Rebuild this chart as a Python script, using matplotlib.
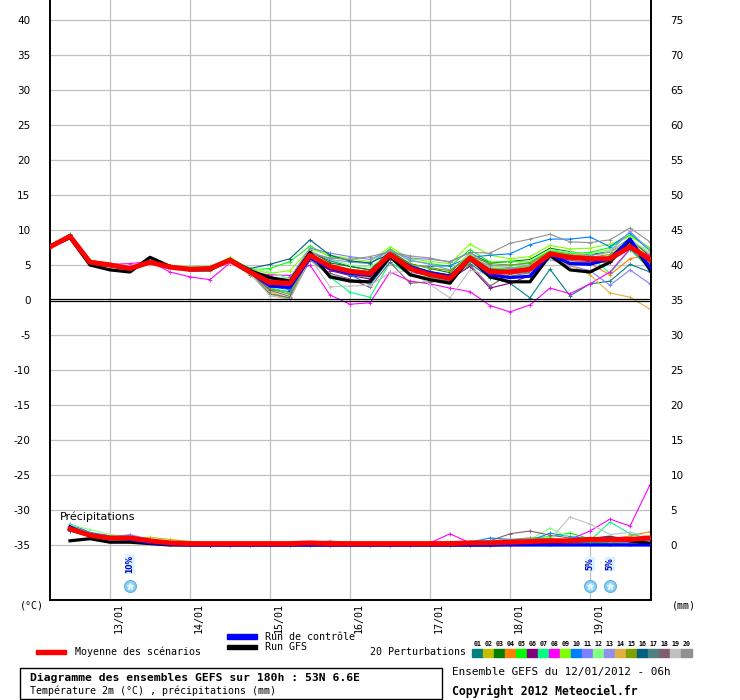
import numpy as np
import matplotlib
matplotlib.use('Agg')
import matplotlib.pyplot as plt
from matplotlib.patches import Rectangle

# ---------------- data ----------------
steps = list(range(31))          # 6-hour steps from 12/01/2012 06h
prcp_steps = list(range(1, 31))
day_steps = [3, 7, 11, 15, 19, 23, 27]
day_labels = ['13/01', '14/01', '15/01', '16/01', '17/01', '18/01', '19/01']
temp_ticks = list(range(-35, 41, 5))
snow_steps = [4, 27, 28]
snow_labels = ['10%', '5%', '5%']

temp_mean = [7.6, 9.1, 5.4, 5.0, 4.5, 5.4, 4.7, 4.4, 4.5, 5.7, 4.0, 2.5, 2.4, 6.4, 4.8, 4.1,
             3.8, 6.5, 4.5, 3.6, 3.1, 6.0, 4.0, 4.0, 4.4, 6.6, 6.1, 5.9, 5.9, 7.6, 5.8]
temp_gfs = [7.6, 8.9, 5.0, 4.3, 4.0, 6.1, 4.8, 4.3, 4.3, 5.8, 4.2, 3.2, 2.7, 6.8, 3.3, 2.7,
            2.6, 6.2, 3.6, 2.9, 2.4, 6.0, 3.3, 2.6, 2.6, 6.4, 4.3, 4.0, 5.4, 8.6, 4.3]
temp_ctrl = [7.6, 9.1, 5.3, 4.9, 4.4, 5.4, 4.7, 4.4, 4.5, 5.7, 4.0, 2.0, 1.8, 6.0, 4.5, 3.8,
             3.5, 6.5, 4.8, 3.9, 3.4, 6.0, 3.6, 3.2, 3.4, 6.5, 5.2, 5.1, 5.9, 8.7, 4.6]

temp_p01 = [7.7, 9.2, 5.2, 4.9, 4.4, 5.3, 4.6, 4.3, 4.4, 5.9, 3.6, 1.5, 1.2, 6.8, 5.6, 4.8, 4.3, 6.9, 4.8, 4.1, 3.5, 5.2, 3.2, 2.4, 0.3, 4.4, 0.6, 2.3, 2.7, 5.1, 4.0]
temp_p02 = [7.5, 9.0, 5.6, 5.1, 4.4, 5.2, 4.9, 4.6, 4.4, 5.5, 3.8, 0.8, 0.2, 6.0, 4.4, 3.6, 3.2, 6.3, 4.4, 3.4, 3.0, 6.4, 4.6, 4.5, 5.0, 7.0, 6.6, 6.4, 6.8, 8.3, 6.5]
temp_p03 = [7.6, 9.4, 5.3, 4.9, 4.5, 5.5, 4.6, 4.3, 4.6, 5.9, 4.1, 2.8, 2.2, 7.1, 5.3, 4.8, 4.3, 7.0, 5.2, 4.5, 3.9, 6.7, 5.3, 5.5, 5.8, 7.4, 6.9, 6.5, 6.9, 8.8, 6.2]
temp_p04 = [7.7, 9.1, 5.6, 5.3, 4.7, 5.3, 4.5, 4.2, 4.3, 5.4, 3.7, 2.2, 2.0, 5.9, 4.6, 4.3, 3.7, 6.2, 4.3, 3.4, 3.0, 5.8, 4.5, 4.4, 4.9, 6.4, 5.6, 5.2, 3.6, 5.9, 6.5]
temp_p05 = [7.6, 9.3, 5.5, 5.0, 4.4, 5.4, 4.9, 4.7, 4.7, 5.6, 4.3, 4.5, 5.5, 7.7, 6.2, 5.6, 5.2, 7.3, 5.6, 5.2, 4.8, 7.2, 5.4, 5.5, 5.4, 7.1, 6.6, 6.8, 7.5, 9.3, 7.4]
temp_p06 = [7.6, 9.0, 5.3, 4.8, 4.6, 5.6, 4.6, 4.4, 4.5, 5.7, 3.9, 3.4, 1.3, 6.1, 4.2, 3.5, 3.0, 6.3, 4.0, 3.5, 3.0, 4.8, 1.7, 2.4, 3.5, 6.2, 5.7, 5.5, 5.4, 7.8, 5.4]
temp_p07 = [7.7, 9.4, 5.4, 5.0, 4.6, 5.6, 4.8, 4.5, 4.6, 6.0, 4.2, 1.8, 1.0, 6.5, 3.3, 1.1, 0.4, 5.4, 3.6, 3.2, 2.7, 5.4, 4.3, 4.6, 4.9, 6.3, 6.0, 6.3, 3.8, 7.2, 4.4]
temp_p08 = [7.6, 9.0, 5.3, 5.1, 5.2, 5.5, 4.0, 3.3, 2.9, 5.3, 3.9, 3.6, 3.5, 5.0, 0.7, -0.6, -0.4, 4.0, 2.7, 2.3, 1.7, 1.2, -0.8, -1.7, -0.7, 1.7, 0.9, 2.3, 4.0, 7.3, 6.4]
temp_p09 = [7.6, 9.2, 5.5, 5.1, 4.6, 5.7, 5.0, 4.6, 4.7, 6.1, 4.4, 3.8, 4.2, 7.3, 6.4, 5.9, 5.5, 7.6, 5.9, 5.5, 5.2, 8.0, 6.4, 5.9, 6.2, 7.8, 7.3, 7.4, 8.0, 9.0, 7.5]
temp_p10 = [7.6, 9.1, 5.3, 4.9, 4.4, 5.3, 4.5, 4.3, 4.4, 5.6, 3.9, 1.9, 1.5, 6.3, 4.7, 3.6, 2.2, 5.8, 4.9, 4.8, 4.9, 6.1, 6.4, 6.6, 7.9, 8.7, 8.7, 9.0, 7.6, 9.6, 7.0]
temp_p11 = [7.5, 9.0, 5.4, 5.0, 4.5, 5.4, 4.7, 4.4, 4.5, 5.6, 4.1, 3.0, 3.2, 7.4, 6.7, 6.2, 5.8, 7.0, 6.0, 5.8, 5.5, 6.8, 5.0, 4.6, 4.2, 5.8, 4.9, 4.2, 2.1, 4.3, 2.3]
temp_p12 = [7.6, 9.2, 5.6, 5.2, 4.7, 5.4, 4.9, 4.8, 4.9, 5.9, 4.6, 4.0, 3.0, 7.0, 5.8, 5.0, 4.7, 6.6, 5.0, 4.6, 4.2, 6.6, 4.7, 4.8, 5.6, 7.2, 6.8, 6.6, 7.2, 8.5, 7.0]
temp_p13 = [7.6, 9.1, 5.4, 5.0, 4.6, 5.5, 4.8, 4.5, 4.5, 5.7, 3.9, 2.4, 2.0, 6.9, 5.8, 5.4, 5.2, 7.1, 5.7, 5.1, 4.3, 6.0, 4.9, 5.0, 5.2, 6.8, 6.4, 6.3, 6.9, 9.8, 7.1]
temp_p14 = [7.7, 9.0, 5.7, 5.2, 4.8, 5.2, 4.6, 4.2, 4.2, 5.5, 3.7, 1.2, 0.2, 6.1, 4.6, 4.0, 3.6, 6.3, 4.6, 3.9, 3.3, 5.6, 4.2, 4.1, 4.7, 6.1, 5.0, 3.6, 1.0, 0.4, -1.3]
temp_p15 = [7.6, 9.2, 5.4, 4.9, 4.5, 5.6, 4.8, 4.4, 4.6, 5.8, 3.8, 1.6, 0.8, 6.2, 4.9, 4.4, 4.0, 6.8, 5.1, 4.6, 4.2, 6.3, 5.2, 5.0, 5.3, 6.9, 6.3, 6.1, 6.5, 8.1, 6.0]
temp_p16 = [7.6, 9.3, 5.3, 5.0, 4.5, 5.5, 4.7, 4.4, 4.5, 5.8, 4.5, 5.1, 5.9, 8.6, 6.4, 5.6, 5.3, 6.6, 4.8, 4.0, 3.6, 6.2, 4.4, 4.2, 4.6, 6.5, 6.0, 5.6, 6.2, 8.6, 4.8]
temp_p17 = [7.6, 9.1, 5.4, 5.0, 4.5, 5.4, 4.6, 4.3, 4.4, 5.6, 3.8, 0.9, 0.3, 5.7, 3.5, 2.9, 2.6, 5.9, 3.8, 3.0, 2.7, 5.6, 3.4, 3.4, 3.9, 6.0, 5.4, 5.1, 5.6, 7.4, 4.5]
temp_p18 = [7.6, 9.0, 5.5, 5.1, 4.5, 5.3, 4.7, 4.4, 4.5, 5.6, 4.0, 1.4, 0.5, 5.8, 3.8, 3.0, 1.8, 5.4, 2.4, 2.6, 2.8, 5.0, 2.0, 3.7, 4.0, 6.1, 5.6, 5.3, 6.0, 8.0, 5.3]
temp_p19 = [7.7, 9.2, 5.3, 4.8, 4.3, 5.2, 4.4, 4.1, 4.2, 5.4, 3.8, 0.6, 0.1, 6.0, 1.9, 2.0, 2.1, 3.9, 4.2, 2.2, 0.3, 4.3, 3.5, 3.8, 4.1, 5.9, 5.5, 5.8, 7.0, 8.6, 6.7]
temp_p20 = [7.6, 9.1, 5.5, 5.1, 4.6, 5.5, 4.7, 4.6, 4.5, 5.7, 4.1, 2.9, 2.6, 6.7, 6.0, 5.8, 6.2, 6.9, 6.3, 6.0, 5.4, 6.8, 6.7, 8.1, 8.7, 9.4, 8.3, 8.2, 8.6, 10.3, 8.3]

prcp_mean = [2.3, 1.4, 1.0, 1.0, 0.6, 0.3, 0.2, 0.2, 0.2, 0.2, 0.2, 0.2, 0.3, 0.2, 0.2,
             0.2, 0.2, 0.2, 0.2, 0.2, 0.3, 0.3, 0.4, 0.5, 0.6, 0.6, 0.8, 0.8, 0.8, 1.0]
prcp_gfs = [0.6, 0.9, 0.4, 0.4, 0.2, 0.0, 0.0, 0.0, 0.0, 0.0, 0.0, 0.0, 0.0, 0.0, 0.0,
            0.0, 0.0, 0.0, 0.0, 0.0, 0.0, 0.0, 0.1, 0.2, 0.3, 0.5, 0.8, 1.0, 0.6, 0.2]
prcp_ctrl = [2.6, 1.3, 0.9, 0.8, 0.3, 0.1, 0.0, 0.0, 0.0, 0.0, 0.0, 0.0, 0.0, 0.0, 0.0,
             0.0, 0.0, 0.0, 0.0, 0.0, 0.0, 0.0, 0.0, 0.0, 0.0, 0.0, 0.0, 0.0, 0.0, 0.0]

prcp_p01 = [2.2, 1.5, 1.1, 1.0, 0.6, 0.3, 0.2, 0.1, 0.1, 0.1, 0.2, 0.2, 0.1, 0.1, 0.1, 0.1, 0.1, 0.1, 0.1, 0.1, 0.1, 0.2, 0.2, 0.3, 0.2, 0.3, 0.2, 0.2, 0.1, 0.1]
prcp_p02 = [2.7, 1.7, 1.3, 1.0, 1.1, 0.8, 0.5, 0.2, 0.1, 0.1, 0.0, 0.0, 0.1, 0.1, 0.0, 0.0, 0.2, 0.2, 0.1, 0.1, 0.0, 0.1, 0.3, 0.5, 0.4, 0.4, 0.3, 0.6, 0.7, 0.5]
prcp_p03 = [2.6, 1.6, 1.1, 0.9, 0.5, 0.3, 0.1, 0.0, 0.0, 0.0, 0.2, 0.3, 0.0, 0.0, 0.0, 0.0, 0.0, 0.0, 0.0, 0.0, 0.0, 0.0, 0.0, 0.1, 0.4, 0.7, 0.3, 0.2, 0.1, 0.2]
prcp_p04 = [2.3, 1.6, 1.0, 1.2, 0.8, 0.4, 0.2, 0.1, 0.0, 0.0, 0.0, 0.1, 0.1, 0.0, 0.0, 0.0, 0.0, 0.1, 0.2, 0.2, 0.1, 0.3, 0.6, 0.9, 0.9, 0.7, 1.0, 0.8, 1.3, 1.9]
prcp_p05 = [2.5, 1.3, 0.9, 0.8, 0.4, 0.2, 0.1, 0.1, 0.0, 0.0, 0.0, 0.1, 0.1, 0.0, 0.0, 0.1, 0.1, 0.1, 0.2, 0.4, 0.5, 0.6, 0.7, 1.0, 1.2, 1.7, 0.9, 0.6, 0.4, 0.5]
prcp_p06 = [2.0, 1.2, 0.9, 1.4, 0.6, 0.3, 0.1, 0.0, 0.0, 0.0, 0.0, 0.0, 0.0, 0.0, 0.0, 0.0, 0.0, 0.0, 0.1, 0.2, 0.3, 0.4, 0.3, 0.3, 0.2, 0.5, 0.6, 0.4, 0.3, 0.2]
prcp_p07 = [2.4, 1.5, 1.0, 0.9, 0.6, 0.3, 0.1, 0.1, 0.0, 0.0, 0.0, 0.0, 0.0, 0.0, 0.0, 0.0, 0.1, 0.0, 0.0, 0.0, 0.1, 0.2, 0.3, 0.5, 0.4, 0.5, 0.6, 3.3, 1.6, 0.9]
prcp_p08 = [2.2, 1.4, 1.0, 1.0, 0.5, 0.3, 0.1, 0.1, 0.1, 0.1, 0.1, 0.1, 0.1, 0.1, 0.1, 0.1, 0.1, 0.2, 0.3, 1.6, 0.3, 0.2, 0.2, 0.3, 0.6, 0.8, 2.0, 3.7, 2.7, 8.6]
prcp_p09 = [2.8, 1.7, 1.2, 1.1, 0.6, 0.4, 0.2, 0.1, 0.1, 0.1, 0.1, 0.2, 0.1, 0.2, 0.3, 0.4, 0.3, 0.1, 0.1, 0.1, 0.1, 0.1, 0.2, 0.3, 0.5, 0.6, 0.5, 0.4, 0.3, 0.3]
prcp_p10 = [3.0, 1.8, 1.3, 1.0, 0.5, 0.2, 0.1, 0.0, 0.0, 0.0, 0.0, 0.0, 0.0, 0.0, 0.0, 0.0, 0.0, 0.0, 0.1, 0.3, 0.4, 1.0, 0.8, 0.6, 1.7, 1.2, 0.9, 1.3, 0.6, 0.5]
prcp_p11 = [2.4, 1.4, 1.2, 1.3, 0.7, 0.4, 0.2, 0.1, 0.0, 0.0, 0.1, 0.1, 0.0, 0.1, 0.2, 0.1, 0.1, 0.1, 0.0, 0.1, 0.2, 0.3, 0.3, 0.3, 0.4, 0.5, 0.4, 0.5, 0.3, 0.2]
prcp_p12 = [2.9, 2.2, 1.5, 1.2, 0.8, 0.4, 0.2, 0.2, 0.1, 0.2, 0.3, 0.2, 0.0, 0.0, 0.0, 0.0, 0.0, 0.0, 0.0, 0.0, 0.1, 0.2, 0.4, 0.8, 2.4, 1.0, 0.5, 0.6, 0.8, 0.6]
prcp_p13 = [2.3, 1.5, 1.1, 1.5, 0.8, 0.4, 0.2, 0.1, 0.1, 0.1, 0.2, 0.2, 0.1, 0.1, 0.1, 0.1, 0.1, 0.1, 0.1, 0.2, 0.2, 0.3, 0.4, 0.5, 0.4, 0.4, 0.5, 0.6, 0.5, 0.4]
prcp_p14 = [2.1, 1.4, 1.0, 0.9, 0.6, 0.3, 0.2, 0.1, 0.0, 0.0, 0.0, 0.0, 0.0, 0.0, 0.1, 0.1, 0.1, 0.1, 0.1, 0.2, 0.3, 0.3, 0.4, 0.4, 0.5, 0.6, 0.7, 0.6, 0.9, 0.7]
prcp_p15 = [2.5, 1.5, 1.0, 0.9, 0.5, 0.3, 0.1, 0.1, 0.0, 0.0, 0.2, 0.1, 0.0, 0.0, 0.0, 0.3, 0.3, 0.1, 0.0, 0.0, 0.0, 0.1, 0.2, 0.3, 0.3, 0.4, 0.4, 0.3, 0.2, 0.1]
prcp_p16 = [2.2, 1.3, 1.0, 0.8, 0.4, 0.2, 0.1, 0.0, 0.0, 0.0, 0.1, 0.3, 0.3, 0.1, 0.0, 0.0, 0.0, 0.2, 0.2, 0.1, 0.1, 0.1, 0.2, 0.3, 0.4, 0.3, 0.3, 0.2, 0.2, 0.1]
prcp_p17 = [2.0, 1.2, 0.9, 0.9, 0.5, 0.3, 0.2, 0.2, 0.1, 0.1, 0.1, 0.2, 0.2, 0.1, 0.1, 0.1, 0.1, 0.1, 0.1, 0.1, 0.1, 0.2, 0.3, 0.4, 0.4, 0.4, 0.3, 0.3, 0.2, 0.2]
prcp_p18 = [2.3, 1.4, 0.9, 0.8, 0.4, 0.3, 0.2, 0.3, 0.1, 0.1, 0.1, 0.1, 0.1, 0.1, 0.1, 0.1, 0.2, 0.2, 0.1, 0.1, 0.3, 0.6, 1.6, 2.0, 1.4, 1.0, 0.8, 0.6, 0.5, 0.4]
prcp_p19 = [2.4, 1.5, 1.1, 1.0, 0.6, 0.3, 0.1, 0.1, 0.0, 0.0, 0.0, 0.0, 0.0, 0.0, 0.0, 0.0, 0.0, 0.0, 0.0, 0.0, 0.1, 0.3, 0.5, 0.7, 0.8, 4.0, 3.0, 1.5, 1.8, 1.2]
prcp_p20 = [2.6, 1.6, 1.2, 1.1, 0.7, 0.5, 0.3, 0.2, 0.2, 0.2, 0.2, 0.2, 0.3, 0.6, 0.3, 0.2, 0.2, 0.2, 0.2, 0.3, 0.4, 0.6, 0.8, 1.0, 0.9, 0.7, 0.6, 0.5, 0.8, 0.6]

pert_colors = ['#008080', '#c0c000', '#008000', '#ff8000', '#00ff00', '#800080', '#00ff80',
               '#ff00ff', '#80ff00', '#0080ff', '#8080ff', '#80ff80', '#9090f0', '#e0b040',
               '#80a000', '#006080', '#508080', '#806070', '#c0c0c0', '#909090']

temp_perts = [temp_p01, temp_p02, temp_p03, temp_p04, temp_p05, temp_p06, temp_p07, temp_p08,
              temp_p09, temp_p10, temp_p11, temp_p12, temp_p13, temp_p14, temp_p15, temp_p16,
              temp_p17, temp_p18, temp_p19, temp_p20]
prcp_perts = [prcp_p01, prcp_p02, prcp_p03, prcp_p04, prcp_p05, prcp_p06, prcp_p07, prcp_p08,
              prcp_p09, prcp_p10, prcp_p11, prcp_p12, prcp_p13, prcp_p14, prcp_p15, prcp_p16,
              prcp_p17, prcp_p18, prcp_p19, prcp_p20]

PRCP_BASE = -35.0   # precipitation 0 mm drawn at -35 on the temperature scale

# ---------------- figure ----------------
W, H = 740, 700
fig = plt.figure(figsize=(W / 100, H / 100), dpi=100)
fig.patch.set_facecolor('white')
ax = fig.add_axes([50 / W, 100 / H, 601 / W, 600 / H])
ax.set_xlim(0, 30.05)
ax.set_ylim(-300 / 7, 300 / 7)
ax.set_facecolor('white')

grid_c = '#c0c0c0'
for v in temp_ticks:
    if v != 0:
        ax.axhline(v, color=grid_c, lw=0.9, zorder=0)
for s in day_steps:
    ax.axvline(s, color=grid_c, lw=0.9, zorder=0)
ax.axhline(0.15, color='black', lw=0.9, zorder=6)
ax.axhline(-0.15, color='black', lw=0.9, zorder=6)

ax.spines['top'].set_visible(False)
for sp in ['left', 'right', 'bottom']:
    ax.spines[sp].set_color('black')
    ax.spines[sp].set_linewidth(1.4)

ax.set_xticks([])
ax.set_yticks(temp_ticks)
ax.set_yticklabels([str(v) for v in temp_ticks])
ax.tick_params(axis='y', length=0, pad=14, labelsize=7.5)
ax2 = ax.twinx()
ax2.set_ylim(ax.get_ylim())
ax2.set_yticks(temp_ticks)
ax2.set_yticklabels([str(v + 35) for v in temp_ticks])
ax2.tick_params(axis='y', length=0, pad=14, labelsize=7.5)
for sp in ax2.spines.values():
    sp.set_visible(False)

# temperature lines
for t, c in zip(temp_perts, pert_colors):
    ax.plot(steps, t, color=c, lw=0.8, marker='+', ms=3, mew=0.6, zorder=2)
ax.plot(steps, temp_gfs, color='black', lw=2.3, zorder=3)
ax.plot(steps, temp_ctrl, color='#0000ff', lw=2.3, zorder=4)
ax.plot(steps, temp_mean, color='#ff0000', lw=3.6, zorder=5)

# precipitation lines
def pr(vals):
    return [PRCP_BASE + v for v in vals]

for p, c in zip(prcp_perts, pert_colors):
    ax.plot(prcp_steps, pr(p), color=c, lw=0.8, marker='+', ms=3, mew=0.6, zorder=2)
ax.plot(prcp_steps, pr(prcp_gfs), color='black', lw=2.3, zorder=3)
ax.plot(prcp_steps, pr(prcp_ctrl), color='#0000ff', lw=2.3, zorder=4)
ax.plot(prcp_steps, pr(prcp_mean), color='#ff0000', lw=3.6, zorder=5)

ax.text(0.5, -30.9, 'Précipitations', fontsize=8, va='center', ha='left', zorder=7)

# snow probability icons
for s, lab in zip(snow_steps, snow_labels):
    ax.plot([s], [-40.8], marker='o', ms=8.5, color='#8cd0f4', mec='#5aaee0', mew=0.8, zorder=7)
    ax.plot([s], [-40.8], marker='*', ms=4.5, color='#dff4ff', mec='#dff4ff', zorder=8)
    ax.text(s, -37.7, lab, rotation=90, fontsize=5.5, color='#0000cc', ha='center', va='center',
            fontweight='bold', zorder=8,
            bbox=dict(boxstyle='square,pad=0.1', fc='#d8f4ff', ec='none'))

# date labels
xt = ax.get_xaxis_transform()
for s, lab in zip(day_steps, day_labels):
    ax.text(s + 0.45, -0.005, lab, transform=xt, rotation=90, ha='center', va='top',
            fontsize=7.2, family='DejaVu Sans Mono', clip_on=False)

# ---------------- overlay (legend / titles) ----------------
ov = fig.add_axes([0, 0, 1, 1], facecolor='none')
ov.set_xlim(0, W)
ov.set_ylim(H, 0)
ov.axis('off')
mono = 'DejaVu Sans Mono'

ov.text(20, 606, '(°C)', fontsize=7.2, family=mono, va='center', ha='left')
ov.text(672, 606, '(mm)', fontsize=7.2, family=mono, va='center', ha='left')

ov.add_patch(Rectangle((36, 649.5), 30, 4.5, color='#ff0000'))
ov.text(75, 652, 'Moyenne des scénarios', fontsize=7.2, family=mono, va='center')
ov.add_patch(Rectangle((227, 634), 30, 4.5, color='#0000ff'))
ov.text(265, 636.5, 'Run de contrôle', fontsize=7.2, family=mono, va='center')
ov.add_patch(Rectangle((227, 644.5), 30, 4.5, color='black'))
ov.text(265, 647, 'Run GFS', fontsize=7.2, family=mono, va='center')
ov.text(370, 652, '20 Perturbations', fontsize=7.2, family=mono, va='center')
for k, c in enumerate(pert_colors):
    ov.add_patch(Rectangle((472 + 11 * k, 649), 10.5, 7.5, color=c))
    ov.text(477.5 + 11 * k, 643.5, '%02d' % (k + 1), fontsize=4.8, family=mono, ha='center',
            va='center', fontweight='bold')

ov.add_patch(Rectangle((20, 668), 422, 31, fill=False, ec='black', lw=1.0))
ov.text(30, 678, 'Diagramme des ensembles GEFS sur 180h : 53N 6.6E', fontsize=8.2,
        family=mono, fontweight='bold', va='center')
ov.text(30, 691, 'Température 2m (°C) , précipitations (mm)', fontsize=7.2, family=mono,
        va='center')
ov.text(452, 672, 'Ensemble GEFS du 12/01/2012 - 06h', fontsize=7.9, family=mono, va='center')
ov.text(452, 691, 'Copyright 2012 Meteociel.fr', fontsize=8.3, family=mono, fontweight='bold',
        va='center')

fig.savefig('out.png', dpi=100)
